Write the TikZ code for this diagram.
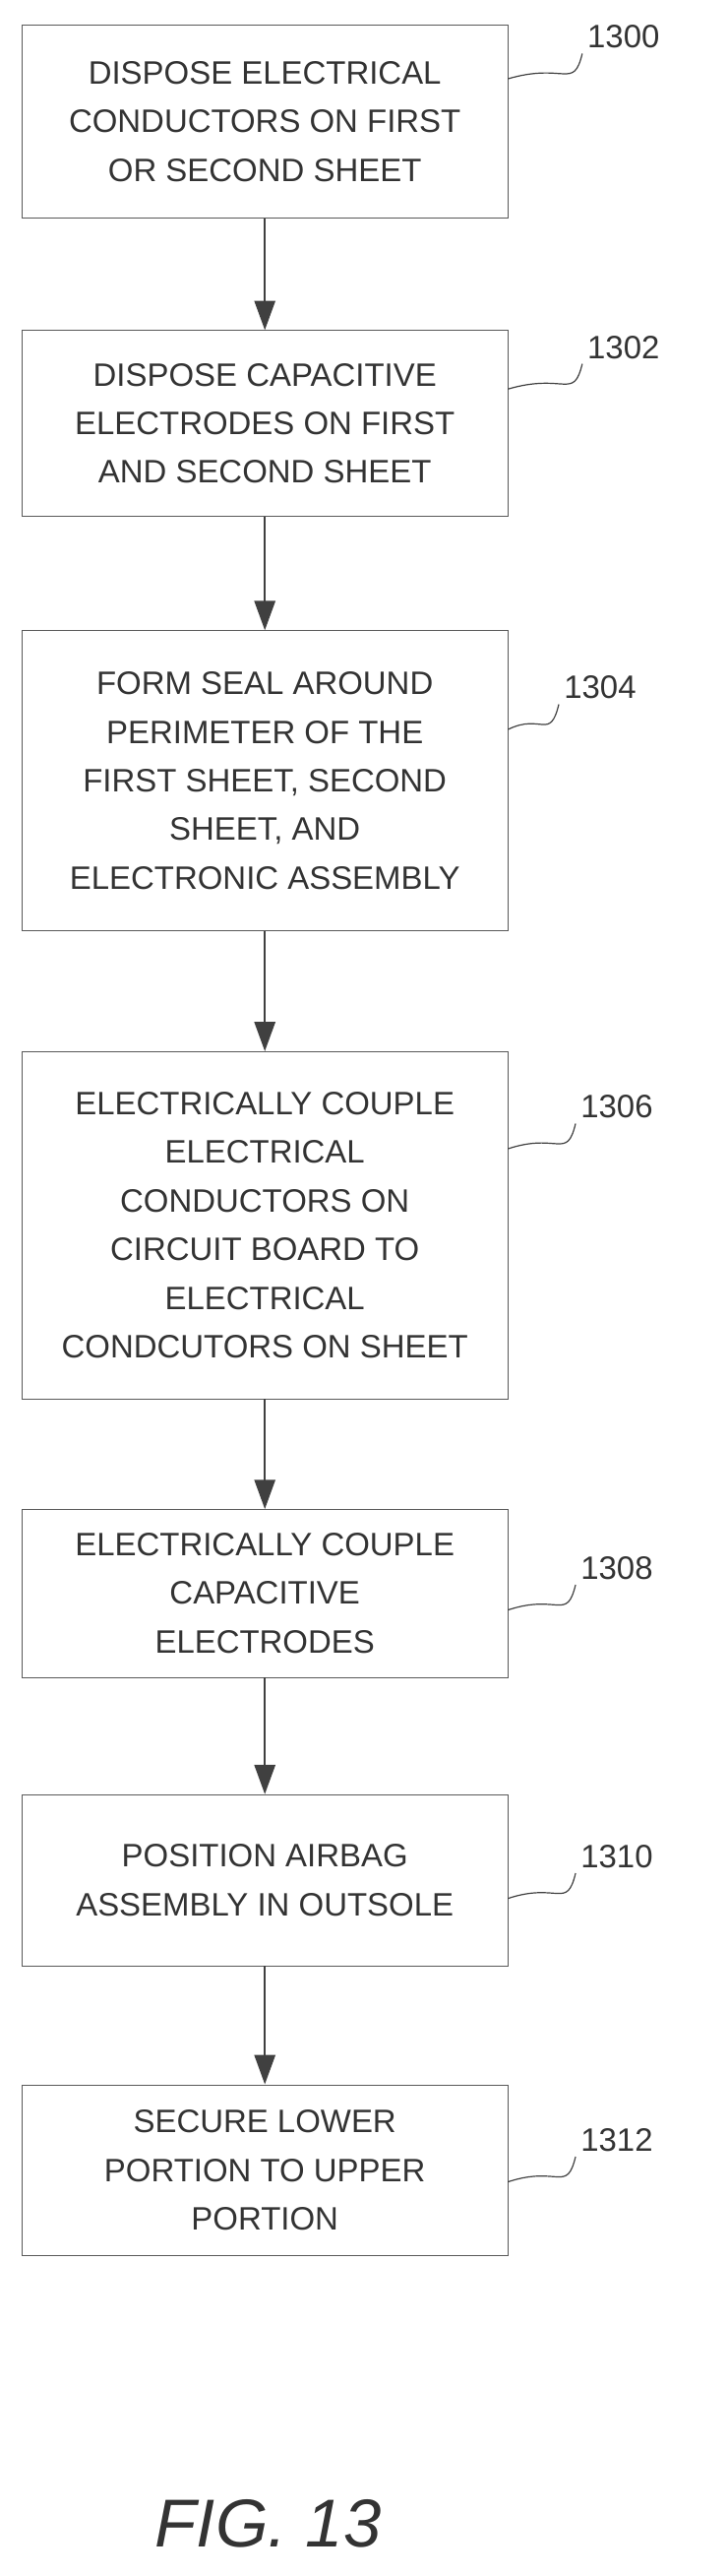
\documentclass[tikz,border=0pt]{standalone}
\usepackage{fontspec}
\setmainfont{Liberation Sans}
\usetikzlibrary{positioning, arrows, arrows.meta}
\begin{document}
\begin{tikzpicture}[x=0.04cm,y=-0.04cm,
	stepbox/.style={draw,gray!70!black,minimum width=11.6cm,align=center,
		font=\fontsize{22}{33}\selectfont,text=black!80},
	flow/.style={draw,very thick,black!75,-{Triangle[length=0.7cm,width=0.5cm]}},
	ref/.style={font=\fontsize{22}{26}\selectfont,text=black!80}]
	\useasboundingbox (0,0) rectangle (434,1536);
	% steps
	\node[stepbox,minimum height=4.6cm] (s1300) at (158,72.5) {DISPOSE ELECTRICAL\\CONDUCTORS ON FIRST\\OR SECOND SHEET};
	\node[stepbox,minimum height=4.44cm] (s1302) at (158,252.5) {DISPOSE CAPACITIVE\\ELECTRODES ON FIRST\\AND SECOND SHEET};
	\node[stepbox,minimum height=7.16cm] (s1304) at (158,465.5) {FORM SEAL AROUND\\PERIMETER OF THE\\FIRST SHEET, SECOND\\SHEET, AND\\ELECTRONIC ASSEMBLY};
	\node[stepbox,minimum height=8.28cm] (s1306) at (158,730.5) {ELECTRICALLY COUPLE\\ELECTRICAL\\CONDUCTORS ON\\CIRCUIT BOARD TO\\ELECTRICAL\\CONDCUTORS ON SHEET};
	\node[stepbox,minimum height=4cm] (s1308) at (158,950) {ELECTRICALLY COUPLE\\CAPACITIVE\\ELECTRODES};
	\node[stepbox,minimum height=4.08cm] (s1310) at (158,1121) {POSITION AIRBAG\\ASSEMBLY IN OUTSOLE};
	\node[stepbox,minimum height=4.08cm] (s1312) at (158,1294) {SECURE LOWER\\PORTION TO UPPER\\PORTION};
	% arrows
	\draw[flow] (s1300) -- (s1302);
	\draw[flow] (s1302) -- (s1304);
	\draw[flow] (s1304) -- (s1306);
	\draw[flow] (s1306) -- (s1308);
	\draw[flow] (s1308) -- (s1310);
	\draw[flow] (s1310) -- (s1312);
	% reference numerals
	\foreach \n/\y/\lx in {1300/22/372,1302/207/372,1304/410/358,1306/660/368,1308/935/368,1310/1107/368,1312/1276/368}{
		\node[ref] (r\n) at (\lx,\y) {\n};
		\coordinate (c\n) at (303,\y+25);
		\draw[thick,black!75] (c\n) .. controls (\lx-35,\y+15) and (\lx-30,\y+32) .. (r\n.south west);
	}
	\node[font=\fontsize{46}{50}\selectfont\rmfamily\itshape,text=black!80] (fig) at (160,1505) {FIG. 13};
\end{tikzpicture}
\end{document}
